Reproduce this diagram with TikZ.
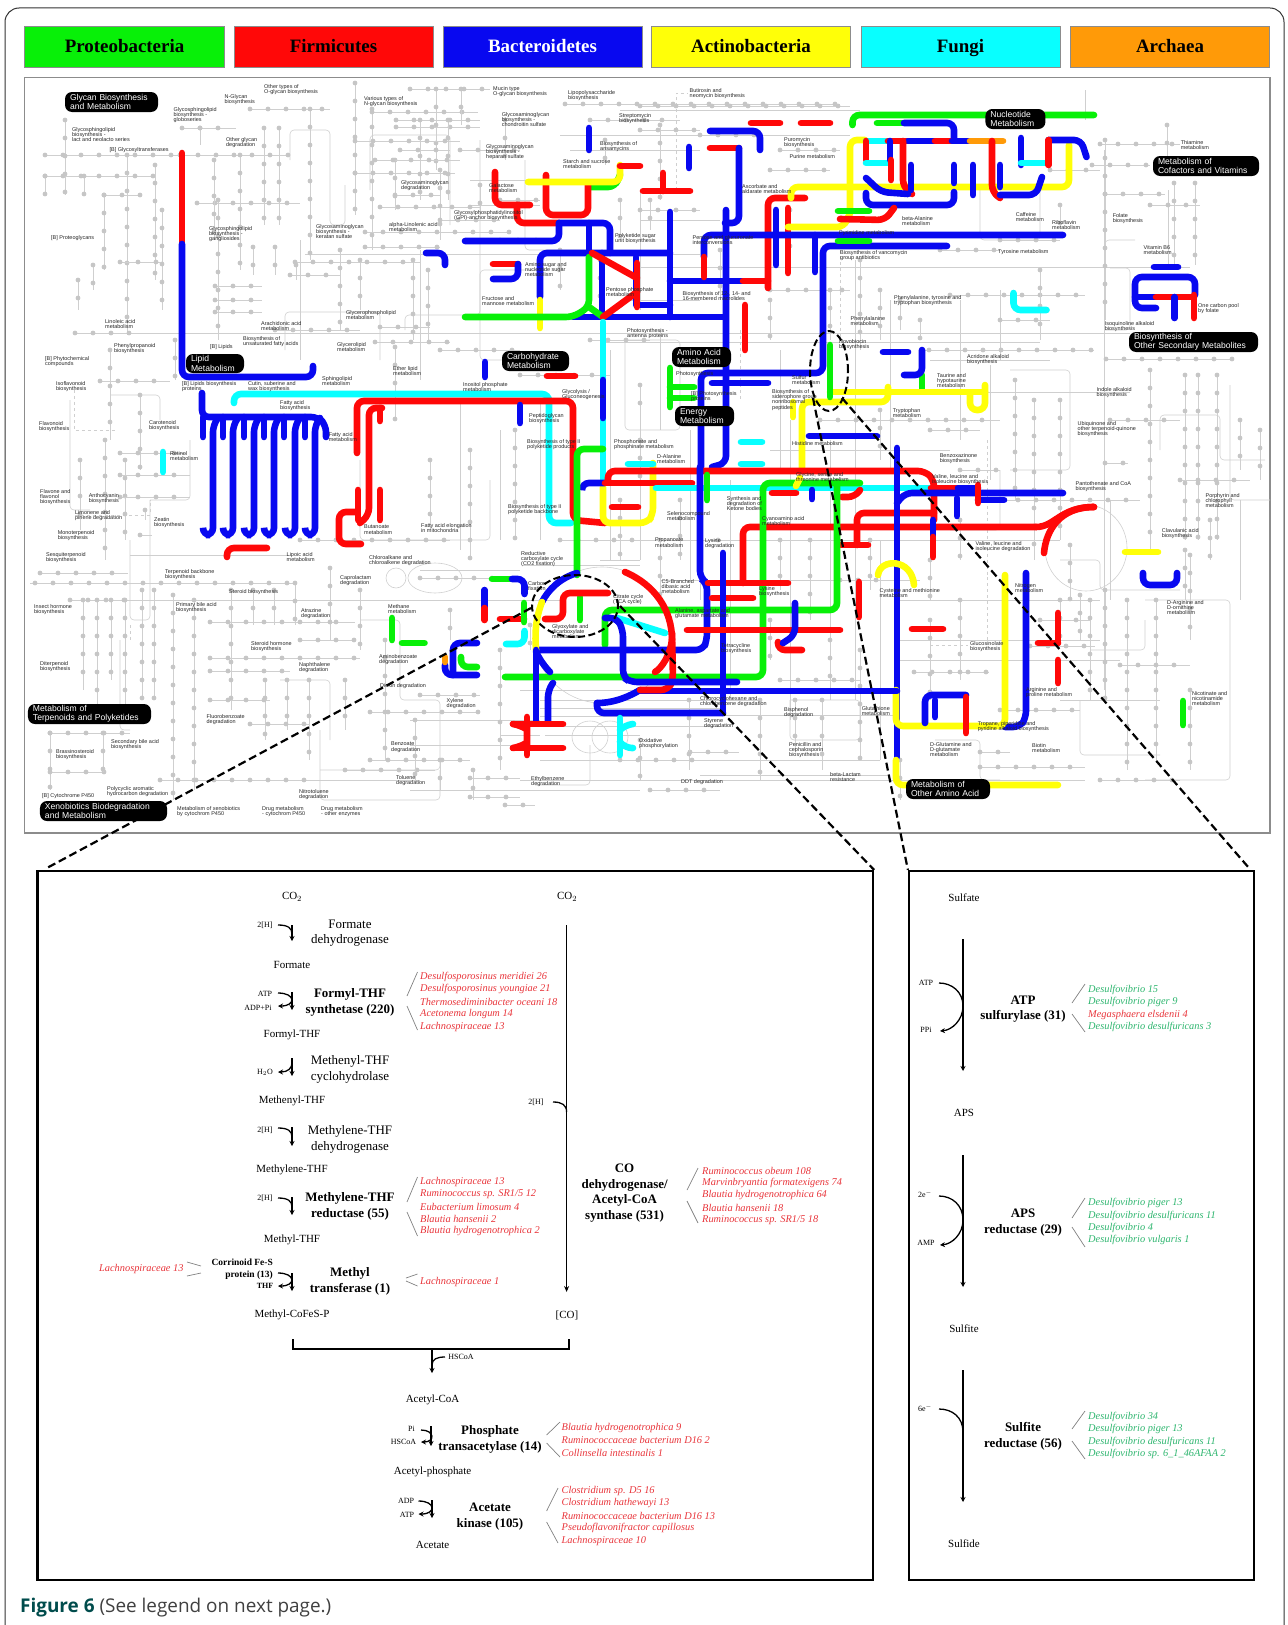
\documentclass[tikz,border=0pt]{standalone}
\usepackage{fontspec}
\setmainfont{Liberation Serif}
\newfontfamily\mapf{Liberation Sans}
\newfontfamily\capf{Open Sans}
\usetikzlibrary{arrows.meta,shapes.geometric}
\definecolor{bB}{HTML}{0808F0}
\definecolor{bR}{HTML}{FF0808}
\definecolor{bG}{HTML}{08F008}
\definecolor{bY}{HTML}{FFFF08}
\definecolor{bC}{HTML}{08FFFF}
\definecolor{bO}{HTML}{FF9A08}
\definecolor{tR}{HTML}{E8343A}
\definecolor{tG}{HTML}{2DB56E}
\definecolor{gnet}{HTML}{C6C6C6}
\definecolor{glin}{HTML}{CFCFCF}
\tikzset{
  thk/.style={line width=6.6bp,line cap=round,rounded corners=7bp},
  pB/.style={thk,draw=bB},pR/.style={thk,draw=bR},pG/.style={thk,draw=bG},
  pY/.style={thk,draw=bY},pC/.style={thk,draw=bC},pO/.style={thk,draw=bO},
  gthin/.style={draw=glin,line width=0.6bp,rounded corners=4bp},
  gdot/.style={draw=gnet,line width=4.8bp,line cap=round,dash pattern=on 0bp off 18bp},
  gdash/.style={draw=glin,line width=0.6bp,dashed},
  maplab/.style={anchor=north west,inner sep=0pt,align=left,text=black!85,font=\mapf\fontsize{5.5}{5.3}\selectfont},
  badge/.style={rounded corners=7bp,fill=black,text=white,inner sep=0pt,align=left,font=\mapf\fontsize{8.6}{9.2}\selectfont},
  legbox/.style={draw=black!45,line width=0.8bp,minimum height=41bp,minimum width=199bp,inner sep=0pt,text height=13bp,text depth=0.5bp,font=\bfseries\fontsize{19}{20}\selectfont},
  zoomln/.style={draw=black,line width=2.2bp,dash pattern=on 8bp off 4bp},
  panel/.style={draw=black,line width=2.2bp},
  met/.style={inner sep=0pt,font=\fontsize{11}{12}\selectfont},
  cof/.style={inner sep=0pt,font=\fontsize{8}{9}\selectfont},
  enz/.style={inner sep=0pt,align=center,font=\fontsize{13}{15.7}\selectfont},
  enzb/.style={inner sep=0pt,align=center,font=\bfseries\fontsize{13}{15.7}\selectfont},
  spR/.style={anchor=west,inner sep=0pt,text=tR,font=\itshape\fontsize{10.4}{12}\selectfont},
  spG/.style={anchor=west,inner sep=0pt,text=tG,font=\itshape\fontsize{10.4}{12}\selectfont},
  brk/.style={draw=black!50,line width=0.7bp},
  rx/.style={draw=black,line width=1.3bp,-{Stealth[length=5bp,width=5bp]}},
  rc/.style={draw=black,line width=1.3bp},
}
\newcounter{lb}
\newcommand{\ML}[3]{\stepcounter{lb}\node[maplab] (m\thelb) at (#1,#2) {#3};}
\newcommand{\BD}[6]{\node[badge,minimum width=#4bp,minimum height=#5bp,text width=#4bp-10bp,align=left] (#6) at (#1+#4/2,#2+#5/2) {#3};}
\newcommand{\SP}[4]{\stepcounter{lb}\node[#1] (s\thelb) at (#2,#3) {#4};}
\newcommand{\BK}[4]{\stepcounter{lb}\coordinate (ba\thelb) at (#1,#2);\coordinate (bb\thelb) at (#3,#4);\draw[brk] (ba\thelb)--(bb\thelb);}
\newcommand{\MAIN}[4]{\coordinate (#1a) at (#2,#3);\coordinate (#1b) at (#2,#4);\draw[rx] (#1a)--(#1b);}
\begin{document}
\begin{tikzpicture}[x=1bp,y=-1bp]
\useasboundingbox (0,0) rectangle (1287,1625);
\draw[draw=black!80,line width=1bp] (5,1625)--(5,22) arc[start angle=180,end angle=90,radius=14bp]--(1270,8) arc[start angle=90,end angle=0,radius=14bp]--(1284,1625);
% legend
\node[legbox,fill=bG,minimum width=199.5bp] (lg1) at (124.5,46.5) {Proteobacteria};
\node[legbox,fill=bR] (lg2) at (333.5,46.5) {Firmicutes};
\node[legbox,fill=bB,text=white] (lg3) at (542.5,46.5) {Bacteroidetes};
\node[legbox,fill=bY] (lg4) at (751,46.5) {Actinobacteria};
\node[legbox,fill=bC] (lg5) at (960.5,46.5) {Fungi};
\node[legbox,fill=bO] (lg6) at (1170,46.5) {Archaea};
\draw[draw=black!45,line width=1.2bp] (24.5,77.3) rectangle (1270,833);
% grey network: thin lines
\foreach \a/\b/\c/\d in {75/333/1130/333,305/254/700/254,640/267/1190/267,600/342/1040/342,985/392/1130/392,30/583/130/583,130/600/200/600,
 200/600/560/600,210/622/355/622,210/658/360/658,520/690/760/690,130/555/290/555,420/570/520/570,640/715/900/715,640/700/760/700,
 500/735/540/735,545/735/640/735,540/760/740/760,410/790/640/790,160/780/420/780,640/540/1060/540,660/580/920/580,900/660/1000/660,1000/660/1120/660,
 640/300/700/300,640/220/720/220,470/180/560/180,470/205/540/205,620/110/860/110,560/135/850/135,570/150/700/150,
 640/190/640/310,610/350/610/560,700/760/880/760,700/775/890/775,1060/700/1160/700,1104/150/1104/690,
 1168/190/1168/270,930/360/1050/360,600/560/640/560,640/410/640/560,660/330/660/430,690/430/690/580,
 780/350/780/470,790/420/790/720,890/300/890/470,960/300/960/440,990/365/990/480,730/480/730/700,830/440/830/700,
 855/260/855/700,880/540/880/760,1000/290/1000/360,1085/90/1085/120,860/320/860/350,770/450/950/450,300/240/300/360,
 420/250/420/380,460/400/460/550,500/430/500/540,540/400/540/540,
 540/700/640/700,540/708/640/708,540/716/640/716,540/726/640/726,640/708/720/708,640/726/720/726,410/720/540/720,410/745/520/745,520/780/1085/780,
 900/640/1100/640,900/600/1100/600,1110/500/1110/600,1240/500/1240/600}
 {\draw[gthin] (\a,\b)--(\c,\d);}
% grey network: rounded paths
\draw[gthin] (290,160)--(290,130)--(330,130)--(330,225)--(345,225)--(345,185);
\draw[gthin] (370,190)--(370,135)--(450,135)--(450,225);
\draw[gthin] (285,350)--(285,312)--(380,312)--(380,360);
\draw[gthin] (405,330)--(405,315)--(480,315)--(480,270)--(545,270);
\draw[gthin] (480,140)--(480,360)--(540,360);
\draw[gthin] (525,160)--(525,250)--(590,250);
\draw[gthin] (625,340)--(625,430)--(680,430)--(680,340)--(625,340);
\draw[gthin] (980,190)--(980,240)--(1040,240)--(1040,190);
\draw[gthin] (1105,270)--(1105,240)--(1135,240);
\draw[gthin] (1110,268)--(1130,268)--(1130,330)--(1105,330);
\draw[gthin] (1010,370)--(1070,370)--(1070,470)--(1010,470);
\draw[gthin] (1230,385)--(1230,500)--(1270,500);
\draw[gthin] (1145,600)--(1230,600)--(1230,780)--(1145,780);
\draw[gthin] (1060,560)--(1100,560)--(1100,590)--(1180,590);
\draw[gthin] (1090,650)--(1145,650)--(1145,620);
\draw[gthin] (935,740)--(980,740)--(980,780)--(1000,780);
\draw[gthin] (790,700)--(860,700)--(860,740)--(790,740)--(790,700);
\draw[gthin] (360,620)--(400,620)--(400,700)--(440,700)--(440,770)--(320,770);
\draw[gthin] (320,730)--(320,800)--(440,800)--(440,770);
\draw[gthin] (280,680)--(330,680)--(330,740);
\draw[gthin] (120,640)--(120,730)--(130,730);
\draw[gthin] (130,540)--(130,620)--(150,620)--(150,500);
\draw[gthin] (70,400)--(70,510)--(90,510);
\draw[gthin] (110,395)--(160,395)--(160,420);
\draw[gthin] (190,440)--(190,500)--(150,500);
\draw[gthin] (360,460)--(360,540)--(490,540)--(490,480);
\draw[gthin] (700,540)--(700,600);
\draw[gthin] (522,565)--(640,565);
\draw[gthin] (535,785)--(590,785)--(590,745);
\draw[gthin] (1160,450)--(1160,415)--(1220,415)--(1220,460)--(1265,460);
\draw[gthin] (950,530)--(1000,530)--(1000,470);
\draw[gthin] (1080,700)--(1080,755)--(1160,755);
\draw[draw=glin,line width=0.6bp] (602,635) circle[radius=68bp];
\draw[draw=glin,line width=0.6bp] (1086,548) ellipse[x radius=41bp,y radius=43bp];
\draw[draw=glin,line width=0.6bp] (590,737) ellipse[x radius=18bp,y radius=16bp];
\draw[draw=glin,line width=0.6bp] (610,737) ellipse[x radius=18bp,y radius=16bp];
\draw[draw=glin,line width=0.6bp] (435,578) ellipse[x radius=27bp,y radius=15bp];
\draw[draw=glin,line width=0.6bp] (396,578) circle[radius=10bp];
\draw[gdash] (676,190)--(676,93)--(687,93);
\draw[gdash] (630,300)--(650,300);\draw[gdash] (740,330)--(740,400);
\draw[gdash] (925,350)--(965,350);\draw[gdash] (840,250)--(840,340);
\draw[gdash] (930,645)--(968,645);\draw[gdash] (987,440)--(987,640);
\draw[gdash] (75,515)--(150,515)--(150,500);\draw[gdash] (130,625)--(130,640);
\draw[gdash] (74,390)--(74,430)--(115,430);
% grey network: dotted segments, each on its thin line
\foreach \a/\b/\c/\d in {
 45/155/180/155,180/155/290/155,45/176/155/176,65/120/65/195,45/176/45/195,84/176/84/195,104/195/142/195,127/155/127/335,104/195/104/270,
 182/128/236/128,200/128/200/145,240/155/240/270,264/128/264/225,279/128/279/225,197/203/300/203,214/160/214/240,250/109/330/109,310/109/310/260,
 355/83/355/215,372/109/372/250,372/112/478/112,410/89/490/89,436/89/436/170,461/89/461/125,355/141/460/141,355/173/455/173,380/207/480/207,365/232/510/232,
 365/247/440/247,295/262/420/262,253/247/253/275,275/247/275/275,290/275/340/275,340/250/340/330,296/265/296/280,360/260/360/310,413/260/413/340,
 428/270/428/340,275/330/360/330,380/327/430/327,215/300/262/300,215/286/262/286,215/312/262/312,218/200/218/340,162/210/162/310,155/165/155/280,
 78/280/78/310,93/265/93/290,120/262/160/262,75/333/140/333,375/342/450/342,395/347/395/420,440/350/520/350,520/375/610/375,100/381/170/381,
 110/350/110/440,140/395/140/470,175/340/175/380,440/170/440/240,400/150/450/150,440/220/500/220,480/185/480/215,395/160/395/210,505/120/505/160,
 565/104/840/104,590/120/680/120,605/140/605/165,560/250/560/290,396/120/480/120,396/127/480/127,420/120/420/200,448/120/448/200,375/160/460/160,395/195/440/195,
 460/150/520/150,500/200/540/200,500/240/560/240,640/130/700/130,640/210/700/210,
 105/440/105/560,80/460/80/530,125/460/125/540,120/453/185/453,120/475/190/475,120/497/190/497,145/510/145/520,140/535/152/535,
 40/573/128/573,35/583/295/583,70/600/130/600,83/600/83/690,97/600/97/720,111/600/111/680,125/600/125/710,142/590/142/700,154/590/154/700,
 173/595/173/800,194/600/194/790,50/733/130/733,50/733/50/790,50/772/105/772,103/733/103/772,160/780/305/780,210/622/350/622,210/658/360/658,
 210/671/290/671,231/590/231/710,253/590/253/625,274/590/274/625,295/583/295/625,265/680/265/740,287/680/287/730,309/680/309/760,345/680/345/730,
 210/700/270/700,370/712/480/712,250/724/310/724,420/695/480/695,370/760/470/760,345/770/435/770,473/770/473/800,470/778/520/778,470/797/520/797,505/805/535/805,
 420/578/510/578,330/568/330/640,360/590/360/650,300/640/355/640,450/610/450/640,300/540/450/540,530/625/530/650,500/650/500/770,
 430/460/430/530,470/450/470/560,515/430/515/540,560/540/640/540,415/720/415/780,440/760/440/790,385/640/385/760,
 640/106/850/106,700/135/760/135,780/150/840/150,770/170/830/170,790/210/790/260,770/290/850/290,830/290/830/340,720/250/720/300,650/200/650/230,
 660/125/660/200,620/200/620/240,600/260/600/310,590/340/650/340,640/385/640/420,
 1092/165/1150/165,1105/194/1165/194,1150/205/1200/205,1100/144/1180/144,1167/125/1167/160,1174/183/1174/270,1195/183/1195/265,1105/140/1105/320,
 929/350/1094/350,1106/359/1234/359,1150/370/1150/550,1185/375/1185/540,1217/375/1217/540,1198/375/1198/540,1105/463/1128/463,1060/400/1060/540,
 1015/380/1015/500,1034/400/1034/560,1000/500/1140/500,1127/600/1127/770,1156/600/1156/760,1030/646/1095/646,914/672/989/672,980/767/1085/767,
 980/752/1010/752,1000/710/1080/710,1185/550/1185/600,880/290/880/340,900/300/900/330,950/295/1085/295,1000/320/1050/320,920/320/920/340,
 1040/270/1040/340,1060/205/1060/225,1000/240/1060/240,860/260/860/340,770/300/770/340,
 820/420/1000/420,880/410/880/460,930/430/980/430,960/470/1000/470,1070/545/1070/600,1190/555/1190/640,1210/520/1210/560,1180/480/1250/480,
 690/752/739/752,689/700/689/770,760/700/760/780,822/700/822/770,780/680/860/680,795/700/795/750,860/650/860/760,900/760/900/800,
 930/620/930/700,960/600/960/680,1060/600/1060/640,1090/600/1090/700,1105/590/1105/700,870/540/870/590,930/560/930/600,960/520/960/560,
 660/540/660/600,680/500/680/560,700/540/730/540,620/500/620/560,640/610/690/610,640/440/640/480,780/540/780/590,810/540/810/620,840/580/880/580,
 620/760/700/760,640/740/640/780,650/790/720/790,770/620/770/660,830/640/830/680,1190/690/1190/770,1100/780/1180/780,1080/595/1080/640,
 1120/665/1190/665,1040/620/1090/620,1240/420/1240/470,1260/430/1260/480,1110/420/1180/420,1050/170/1100/170,940/250/1000/250}
 {\draw[gthin] (\a,\b)--(\c,\d);\draw[gdot] (\a,\b)--(\c,\d);}
% ===== thick coloured paths =====
\draw[pR] (182,153)--(182,244);
\draw[pB] (182,244)--(182,377)--(313,377)--(313,366);
\draw[pC] (234,403)--(234,394)--(549,394)--(549,523)--(571,523);
\draw[pB] (202,393)--(202,417)--(318,417)--(326,425)--(326,437);
\foreach \x in {203,223,244,264,284,305}{\draw[pB] (\x,417)--(\x,437);}
\foreach \x in {213,233,254,274,295,315}{
 \pgfmathsetmacro{\xl}{\x-10}\pgfmathsetmacro{\xr}{\x+5}
 \draw[pB] (\xl,528)--(\xl,535)--(\x,535)--(\x,425)--(\xr,418);}
\draw[pC] (163,452)--(163,472);
\draw[pR] (227,557)--(227,548)--(267,548);
\draw[pR] (357,453)--(357,401)--(573,401)--(573,520)--(605,523);
\draw[pR] (382,408)--(369,408)--(369,515)--(360,523);
\draw[pR] (380,408)--(380,421);
\draw[pR] (358,490)--(358,520);\draw[pR] (380,490)--(380,520);
\draw[pR] (361,544)--(339,544)--(339,512)--(357,512);
\draw[pB] (520,405)--(520,423);
\draw[pB] (485,362)--(485,377);\draw[pR] (547,376)--(575,376);
\draw[pB] (589,128)--(589,150);\draw[pB] (689,147)--(689,168);
\draw[pR] (495,172)--(495,205)--(530,205);
\draw[pR] (517,205)--(517,223)--(559,223);
\draw[pG] (590,187)--(615,187)--(620,175);
\draw[pR] (546,175)--(546,215)--(588,215)--(588,185);
\draw[pY] (528,182)--(620,182)--(620,165);
\draw[pR] (620,166)--(640,166);
\draw[pR] (643,191)--(690,191);\draw[pR] (663,173)--(663,191);
\draw[pB] (559,223)--(610,223)--(610,253);\draw[pB] (589,223)--(589,253);
\draw[pB] (559,223)--(559,241)--(465,241);
\draw[pB] (426,253)--(445,253)--(445,265);
\draw[pR] (493,264)--(518,264);
\draw[pB] (518,264)--(518,279)--(493,279);
\draw[pB] (540,297)--(540,253)--(670,253);
\draw[pY] (540,300)--(540,328);
\draw[pB] (670,212)--(670,317);
\draw[pB] (637,305)--(670,305);
\draw[pB] (602,253)--(602,317);\draw[pB] (636,257)--(636,305);
\draw[pB] (573,317)--(725,317);
\draw[pG] (465,317)--(573,317)--(589,307)--(589,257);
\draw[pG] (589,307)--(603,317);
\draw[pR] (592,253)--(637,278);
\draw[pR] (603,317)--(637,292);
\draw[pR] (637,263)--(637,307);
\draw[pC] (603,322)--(603,483);
\draw[pB] (603,380)--(603,418);
\draw[pB] (670,281)--(743,281);
\draw[pR] (743,281)--(768,281);
\draw[pR] (805,198)--(768,198)--(768,288);
\draw[pB] (776,210)--(776,265);
\draw[pR] (788,208)--(788,273);
\draw[pB] (704,257)--(704,235)--(1063,235);
\draw[pR] (704,257)--(704,277);
\draw[pB] (815,235)--(815,272);
\draw[pB] (726,210)--(726,463)--(712,467);
\draw[pR] (710,148)--(739,148);
\draw[pB] (739,148)--(739,223)--(725,223);
\draw[pB] (710,131)--(760,131)--(760,150);
\draw[pR] (751,123)--(780,123);\draw[pR] (801,123)--(830,123);
\draw[pR] (745,305)--(745,350);
\draw[pB] (701,467)--(701,373)--(823,373)--(823,246)--(947,246);
\draw[pB] (712,383)--(768,383);
\draw[pG] (670,368)--(670,407);\draw[pG] (670,387)--(694,387);\draw[pG] (670,398)--(694,398);
\draw[pG] (852.5,125)--(852.5,115)--(1094,115);
\draw[pG] (877,123)--(904,123);
\draw[pB] (904,123)--(954,123)--(954,140);
\draw[pY] (850,213)--(850,140)--(865,140);
\draw[pY] (791,198)--(791,187)--(1069,187)--(1069,145);
\draw[pY] (788,227)--(844,227)--(850,213);
\draw[pC] (866,141)--(888,141);
\draw[pR] (888,141)--(908,141);\draw[pB] (908,141)--(935,141);\draw[pR] (935,141)--(952,141);
\draw[pB] (952,141)--(970,141);\draw[pO] (970,141)--(1003,141);
\draw[pR] (866,141)--(866,160);\draw[pC] (866,163)--(888,163);
\draw[pB] (890,141)--(890,160);\draw[pR] (891,160)--(891,180);
\draw[pR] (903,141)--(903,187)--(912,194);
\draw[pB] (911,165)--(911,190);
\draw[pB] (866,178)--(881,192)--(908,194);
\draw[pB] (866,193)--(866,205)--(954,205)--(954,192);
\draw[pB] (954,165)--(954,183);\draw[pB] (973,165)--(973,195);
\draw[pR] (992,141)--(992,192)--(1000,198);
\draw[pB] (1000,165)--(1000,187);
\draw[pB] (1000,195)--(1036,195)--(1042,177);
\draw[pB] (1021,138)--(1021,165);\draw[pC] (1021,163)--(1046,163);
\draw[pB] (1048.6,140)--(1081,140)--(1086.5,157);
\draw[pR] (1048.6,140)--(1048.6,165);
\draw[pG] (838,211)--(869,211);
\draw[pR] (840,219)--(885,220)--(894,208);
\draw[pG] (838,241)--(869,241);
\draw[pB] (1154,267)--(1178,267);
\draw[pB] (1156,308)--(1135,308)--(1135,277)--(1195,277)--(1195,295);
\draw[pR] (1194,295)--(1194,318);
\draw[pB] (1135,297)--(1156,297);\draw[pR] (1156,297)--(1194,297);
\draw[pB] (1174.5,297)--(1174.5,318);
\draw[pC] (1013.5,293)--(1013.5,310)--(1046.5,310);
\draw[pB] (883,352)--(908,352);
\draw[pG] (922,375)--(922,390);
\draw[pB] (922,350)--(922,375)--(904,375);
\draw[pY] (802,468)--(802,402)--(888,402)--(888,387);
\draw[pY] (793,402)--(793,417);
\draw[pY] (830,392)--(985,392);
\draw[pY] (985,385)--(985,410)--(970,410)--(970,393);
\draw[pG] (830,345)--(830,397);
\draw[pB] (809,436)--(877,436);
\draw[pC] (741,442)--(762,442);\draw[pC] (741,464)--(762,464);
\draw[pY] (603,487)--(603,523)--(647,523)--(653,515)--(653,463);
\draw[pC] (628,464)--(653,464);
\draw[pR] (612,507)--(638,507);
\draw[pB] (582,490)--(582,483)--(605,483);
\draw[pR] (605,483)--(692,483);
\draw[pR] (608,482)--(608,471)--(925,471)--(934,480)--(934,520);
\draw[pC] (656,488)--(929,488);
\draw[pG] (603,449)--(577,449)--(577,575);
\draw[pR] (743,583)--(743,527)--(1036,527);
\draw[pR] (1036,527) .. controls (1055,527) and (1060,507) .. (1094,507);
\draw[pR] (1044,553) .. controls (1046,530) and (1060,507) .. (1094,507);
\draw[pR] (857,545)--(857,513)--(934,513);
\draw[pR] (841,545)--(868,545);
\draw[pB] (933,520)--(933,537);\draw[pR] (933,537)--(933,557);
\draw[pR] (931,488)--(958,488);\draw[pB] (958,488)--(978,488);
\draw[pB] (897,503)--(905,493)--(1063,493);
\draw[pB] (978,500)--(1004,500);
\draw[pR] (978,485)--(978,503);
\draw[pB] (957,498)--(957,516);
\draw[pR] (772,493)--(796,493);
\draw[pB] (812,490)--(812,499);
\draw[pB] (790,483)--(835,483);
\draw[pR] (842,497)--(855,497)--(860,490);
\draw[pG] (505,677)--(763,677)--(763,483)--(860,483);
\draw[pG] (605,645)--(605,610)--(837,610)--(837,482);
\draw[pG] (707,475)--(707,500);
\draw[pY] (800,478)--(796,486);
\draw[pG] (580,597)--(580,620);
\draw[pB] (897,448)--(897,757);
\draw[pR] (859,582)--(859,617);
\draw[pR] (912,629)--(943,629);
\draw[pB] (1026,573)--(1026,718)--(1020,727)--(1005,727);
\draw[pY] (896,690)--(896,726)--(1005,726)--(1005,575);
\draw[pB] (925,723)--(925,695)--(966,695);
\draw[pB] (935,700)--(935,717);
\draw[pR] (966,697)--(966,733);
\draw[pY] (896,760)--(896,785)--(1058,785);
\draw[pY] (878,575) .. controls (880,558) and (912,558) .. (914,585);
\draw[pY] (1125,552)--(1158,552);
\draw[pB] (1143,573)--(1143,585)--(1177,585)--(1177,573);
\draw[pR] (1058,613)--(1058,643);\draw[pR] (1038,643)--(1058,643);
\draw[pR] (1058,660)--(1058,683);
\draw[pG] (1183,701)--(1183,725);
\draw[pB] (537,650)--(703,650)--(707,640)--(707,583)--(700,578)--(700,467);
\draw[pR] (708,583)--(788,583);
\draw[pR] (712,598)--(753,598);
\draw[pB] (723,553)--(723,713);
\draw[pB] (597,703)--(597,713)--(723,713);
\draw[pB] (597,703) .. controls (615,703) and (630,696) .. (640,690);
\draw[pB] (640,691)--(897,691);
\draw[pR] (625,572) .. controls (655,585) and (672,610) .. (672,640);
\draw[pR] (672,633)--(673,680)--(668,690)--(640,690);
\draw[pR] (672,640) .. controls (670,655) and (662,668) .. (655,672);
\draw[pC] (617,618)--(665,633);
\draw[pB] (605,618)--(617,618)--(623,630)--(623,677)--(630,682)--(737,682);
\draw[pR] (687,630)--(840,630);
\draw[pR] (778,642)--(778,650)--(802,650);
\draw[pB] (795,603)--(795,635)--(783,643);
\draw[pB] (577,573) .. controls (560,578) and (548,590) .. (542,602);
\draw[pY] (542,602) .. controls (535,620) and (535,635) .. (536,650);
\draw[pB] (536,650)--(536,722);
\draw[pB] (536,652) .. controls (540,660) and (545,667) .. (550,672);
\draw[pB] (553,683)--(548,690)--(548,722);
\draw[pR] (608,593)--(563,593)--(563,619)--(545,619);
\draw[pR] (513,724)--(563,724);\draw[pR] (513,748)--(563,748);
\draw[pR] (527,717)--(527,755);
\draw[pR] (513,724) .. controls (523,726) and (527,730) .. (527,736) .. controls (527,742) and (523,746) .. (513,748);
\draw[pC] (620,718)--(620,755);
\draw[pC] (620,730)--(625,725)--(633,724);\draw[pC] (620,742)--(625,748)--(633,748);
\draw[pG] (492,579)--(512,579);
\draw[pB] (512,579)--(524.5,579)--(524.5,594);
\draw[pB] (484.5,590)--(484.5,608);\draw[pR] (484.5,608)--(484.5,620);
\draw[pR] (500,619)--(524,619);\draw[pG] (524,603)--(524,622);
\draw[pC] (506,644)--(524.5,644)--(524.5,631);
\draw[pG] (392,618)--(392,640);\draw[pG] (402,643)--(424.5,643);
\draw[pB] (477,643)--(453,643)--(453,675);
\draw[pB] (445,665)--(445,675)--(477,675);
\draw[pO] (445,657)--(445,662);
\draw[pG] (461,657)--(461,667)--(477,667);
% ===== map labels =====
\ML{224.5}{94}{N-Glycan\\biosynthesis}
\ML{264}{84}{Other types of\\O-glycan biosynthesis}
\ML{364}{96}{Various types of\\N-glycan biosynthesis}
\ML{493}{86}{Mucin type\\O-glycan biosynthesis}
\ML{568}{90}{Lipopolysaccharide\\biosynthesis}
\ML{173.5}{107}{Glycosphingolipid\\biosynthesis -\\globoseries}
\ML{72}{127}{Glycosphingolipid\\biosynthesis -\\lact and neolacto series}
\ML{109.4}{147}{[B] Glycosyltransferases}
\ML{226}{137}{Other glycan\\degradation}
\ML{501.6}{112}{Glycosaminoglycan\\biosynthesis -\\chondroitin sulfate}
\ML{486}{144}{Glycosaminoglycan\\biosynthesis -\\heparan sulfate}
\ML{600}{141}{Biosynthesis of\\ansamycins}
\ML{563}{159}{Starch and sucrose\\metabolism}
\ML{489}{183}{Galactose\\metabolism}
\ML{401}{180}{Glycosaminoglycan\\degradation}
\ML{454}{210}{Glycosylphosphatidylinositol\\(GPI)-anchor biosynthesis}
\ML{619}{113}{Streptomycin\\biosynthesis}
\ML{51}{235}{[B] Proteoglycans}
\ML{209}{226}{Glycosphingolipid\\biosynthesis -\\gangliosides}
\ML{316}{224}{Glycosaminoglycan\\biosynthesis -\\keratan sulfate}
\ML{389}{222}{alpha-Linolenic acid\\metabolism}
\ML{525}{262}{Amino sugar and\\nucleotide sugar\\metabolism}
\ML{615}{233}{Polyketide sugar\\unit biosynthesis}
\ML{606}{287}{Pentose phosphate\\metabolism}
\ML{482}{296}{Fructose and\\mannose metabolism}
\ML{346}{310}{Glycerophospholipid\\metabolism}
\ML{105}{319}{Linoleic acid\\metabolism}
\ML{261}{321}{Arachidonic acid\\metabolism}
\ML{243}{336}{Biosynthesis of\\unsaturated fatty acids}
\ML{210}{344}{[B] Lipids}
\ML{337}{342}{Glycerolipid\\metabolism}
\ML{114}{343}{Phenylpropanoid\\biosynthesis}
\ML{45}{356}{[B] Phytochemical\\compounds}
\ML{56}{381}{Isoflavonoid\\biosynthesis}
\ML{182}{381}{[B] Lipids biosynthesis\\proteins}
\ML{248}{381}{Cutin, suberine and\\wax biosynthesis}
\ML{322}{376}{Sphingolipid\\metabolism}
\ML{393}{366}{Ether lipid\\metabolism}
\ML{463}{382}{Inositol phosphate\\metabolism}
\ML{562}{389}{Glycolysis /\\Gluconeogenesis}
\ML{280}{400}{Fatty acid\\biosynthesis}
\ML{328.6}{432}{Fatty acid\\metabolism}
\ML{529}{413}{Peptidoglycan\\biosynthesis}
\ML{39}{421}{Flavonoid\\biosynthesis}
\ML{149}{420}{Carotenoid\\biosynthesis}
\ML{527}{439}{Biosynthesis of type II\\polyketide products}
\ML{614}{439}{Phosphonate and\\phosphinate metabolism}
\ML{170}{451}{Retinol\\metabolism}
\ML{40}{489}{Flavone and\\flavonol\\biosynthesis}
\ML{88.6}{493}{Anthocyanin\\biosynthesis}
\ML{75}{510}{Limonene and\\pinene degradation}
\ML{154}{517}{Zeatin\\biosynthesis}
\ML{57.6}{530}{Monoterpenoid\\biosynthesis}
\ML{46}{552}{Sesquiterpenoid\\biosynthesis}
\ML{364}{525}{Butanoate\\metabolism}
\ML{421}{523}{Fatty acid elongation\\in mitochondria}
\ML{508}{504}{Biosynthesis of type II\\polyketide backbone}
\ML{286.5}{552}{Lipoic acid\\metabolism}
\ML{369}{555}{Chloroalkane and\\chloroalkene degradation}
\ML{521}{551}{Reductive\\carboxylate cycle\\(CO2 fixation)}
\ML{165}{569}{Terpenoid backbone\\biosynthesis}
\ML{340}{575}{Caprolactam\\degradation}
\ML{528}{581}{Carbon\\fixation}
\ML{229}{589}{Steroid biosynthesis}
\ML{388}{604}{Methane\\metabolism}
\ML{301}{608}{Atrazine\\degradation}
\ML{176}{602}{Primary bile acid\\biosynthesis}
\ML{34}{604}{Insect hormone\\biosynthesis}
\ML{613}{594}{Citrate cycle\\(TCA cycle)}
\ML{552}{624}{Glyoxylate and\\dicarboxylate\\metabolism}
\ML{251}{641}{Steroid hormone\\biosynthesis}
\ML{379}{654}{Aminobenzoate\\degradation}
\ML{299}{662}{Naphthalene\\degradation}
\ML{40}{661}{Diterpenoid\\biosynthesis}
\ML{380}{683}{Dioxin degradation}
\ML{446.5}{698}{Xylene\\degradation}
\ML{206.5}{714}{Fluorobenzoate\\degradation}
\ML{111}{739}{Secondary bile acid\\biosynthesis}
\ML{56}{749}{Brassinosteroid\\biosynthesis}
\ML{391}{742}{Benzoate\\degradation}
\ML{396}{775}{Toluene\\degradation}
\ML{531}{776}{Ethylbenzene\\degradation}
\ML{107}{786}{Polycyclic aromatic\\hydrocarbon degradation}
\ML{42}{793}{[B] Cytochrome P450}
\ML{299}{789}{Nitrotoluene\\degradation}
\ML{177}{806}{Metabolism of xenobiotics\\by cytochrom P450}
\ML{262}{806}{Drug metabolism\\- cytochrom P450}
\ML{321}{806}{Drug metabolism\\- other enzymes}
\ML{689.5}{88}{Butirosin and\\neomycin biosynthesis}
\ML{784}{137}{Puromycin\\biosynthesis}
\ML{789.4}{154}{Purine metabolism}
\ML{1180.6}{140}{Thiamine\\metabolism}
\ML{742}{184}{Ascorbate and\\aldarate metabolism}
\ML{902}{216}{beta-Alanine\\metabolism}
\ML{1015.6}{212}{Caffeine\\metabolism}
\ML{1052}{220}{Riboflavin\\metabolism}
\ML{1112.6}{213}{Folate\\biosynthesis}
\ML{839}{230}{Pyrimidine metabolism}
\ML{692.4}{235}{Pentose and glucuronate\\interconversions}
\ML{840}{250}{Biosynthesis of vancomycin\\group antibiotics}
\ML{998}{249}{Tyrosine metabolism}
\ML{1143.5}{245}{Vitamin B6\\metabolism}
\ML{682.5}{291}{Biosynthesis of 12-, 14- and\\16-membered macrolides}
\ML{894}{295}{Phenylalanine, tyrosine and\\tryptophan biosynthesis}
\ML{1198}{303}{One carbon pool\\by folate}
\ML{850.5}{316}{Phenylalanine\\metabolism}
\ML{1104.7}{321}{Isoquinoline alkaloid\\biosynthesis}
\ML{627}{328}{Photosynthesis -\\antenna proteins}
\ML{839}{339}{Novobiocin\\biosynthesis}
\ML{967}{354}{Acridone alkaloid\\biosynthesis}
\ML{937}{373}{Taurine and\\hypotaurine\\metabolism}
\ML{676}{371}{Photosynthesis}
\ML{792}{375}{Sulfur\\metabolism}
\ML{691}{391}{[B] Photosynthesis\\proteins}
\ML{772}{389}{Biosynthesis of\\siderophore group\\nonribosomal\\peptides}
\ML{1096.5}{387}{Indole alkaloid\\biosynthesis}
\ML{892.6}{408}{Tryptophan\\metabolism}
\ML{1077.5}{421}{Ubiquinone and\\other terpenoid-quinone\\biosynthesis}
\ML{792}{441}{Histidine metabolism}
\ML{939.6}{453}{Benzoxazinone\\biosynthesis}
\ML{657}{454}{D-Alanine\\metabolism}
\ML{796}{472}{Glycine, serine and\\threonine metabolism}
\ML{932}{474}{Valine, leucine and\\isoleucine biosynthesis}
\ML{1075.4}{481}{Pantothenate and CoA\\biosynthesis}
\ML{1205.4}{493}{Porphyrin and\\chlorophyll\\metabolism}
\ML{726.7}{496}{Synthesis and\\degradation of\\Ketone bodies}
\ML{667}{511}{Selenocompound\\metabolism}
\ML{762}{516}{Cyanoamino acid\\metabolism}
\ML{1161.7}{528}{Clavulanic acid\\biosynthesis}
\ML{655}{538}{Propanoate\\metabolism}
\ML{705}{538}{Lysine\\degradation}
\ML{975.5}{541}{Valine, leucine and\\isoleucine degradation}
\ML{661.5}{579}{C5-Branched\\dibasic acid\\metabolism}
\ML{879.4}{588}{Cysteine and methionine\\metabolism}
\ML{759}{586}{Lysine\\biosynthesis}
\ML{1015}{583}{Nitrogen\\metabolism}
\ML{1167}{600}{D-Arginine and\\D-ornithine\\metabolism}
\ML{675}{608}{Alanine, aspartate and\\glutamate metabolism}
\ML{721}{643}{Tetracycline\\biosynthesis}
\ML{970}{641}{Glucosinolate\\biosynthesis}
\ML{1026}{687}{Arginine and\\proline metabolism}
\ML{1192}{691}{Nicotinate and\\nicotinamide\\metabolism}
\ML{700}{696}{Chlorocyclohexane and\\chlorobenzene degradation}
\ML{784}{707}{Bisphenol\\degradation}
\ML{861.6}{706}{Glutathione\\metabolism}
\ML{977.6}{721}{Tropane, piperidine and\\pyridine alkaloid biosynthesis}
\ML{704}{718}{Styrene\\degradation}
\ML{639}{738}{Oxidative\\phosphorylation}
\ML{789}{742}{Penicillin and\\cephalosporin\\biosynthesis}
\ML{930}{742}{D-Glutamine and\\D-glutamate\\metabolism}
\ML{1032}{743}{Biotin\\metabolism}
\ML{681}{779}{DDT degradation}
\ML{830}{772}{beta-Lactam\\resistance}
% badges
\BD{65}{92}{Glycan Biosynthesis\\and Metabolism}{93}{20}{b1}
\BD{186}{354}{Lipid\\Metabolism}{58}{19}{b2}
\BD{502}{351}{Carbohydrate\\Metabolism}{67}{20}{b3}
\BD{672}{347}{Amino Acid\\Metabolism}{59}{20}{b4}
\BD{675}{406}{Energy\\Metabolism}{59}{20}{b5}
\BD{985.4}{109}{Nucleotide\\Metabolism}{60}{20}{b6}
\BD{1153}{156}{Metabolism of\\Cofactors and Vitamins}{106}{20}{b7}
\BD{1129}{332}{Biosynthesis of\\Other Secondary Metabolites}{129}{20}{b8}
\BD{28}{704}{Metabolism of\\Terpenoids and Polyketides}{123}{20}{b9}
\BD{40}{801}{Xenobiotics Biodegradation\\and Metabolism}{127}{20}{b10}
\BD{906}{779}{Metabolism of\\Other Amino Acid}{84}{20}{b11}
% panels
\node[panel,minimum width=835.5bp,minimum height=709bp,inner sep=0pt] (leftpanel) at (455.25,1225.5) {};
\node[panel,minimum width=344.7bp,minimum height=709bp,inner sep=0pt] (rightpanel) at (1081.35,1225.5) {};
% zoom callouts
\node[draw=black,line width=2bp,dash pattern=on 7bp off 3.5bp,ellipse,minimum width=86bp,minimum height=62bp,inner sep=0pt] (ellA) at (575,606) {};
\node[draw=black,line width=2bp,dash pattern=on 7bp off 3.5bp,ellipse,minimum width=38bp,minimum height=80bp,inner sep=0pt] (ellB) at (829,371) {};
\coordinate (zA1) at (531,608);\coordinate (zA2) at (620,606);
\coordinate (zB1) at (813,398);\coordinate (zB2) at (842,398);
\coordinate (zL1) at (45,869);\coordinate (zL2) at (1249,868);
\draw[zoomln] (zA1)--(zL1);
\draw[zoomln] (zA2)--(leftpanel.north east);
\draw[zoomln] (zB1)--(rightpanel.north west);
\draw[zoomln] (zB2)--(zL2);
% ===== left panel texts =====
\node[met] (co2a) at (292,897) {CO$_2$};
\node[met] (co2b) at (567,897) {CO$_2$};
\node[met] (formate) at (292,965) {Formate};
\node[met] (fthf) at (292,1035) {Formyl-THF};
\node[met] (mthf1) at (292,1101) {Methenyl-THF};
\node[met] (mthf2) at (292,1170) {Methylene-THF};
\node[met] (mthf3) at (292,1240) {Methyl-THF};
\node[met] (mcfs) at (292,1315) {Methyl-CoFeS-P};
\node[met] (cobr) at (567,1315) {[CO]};
\node[met] (acoa) at (432.6,1400) {Acetyl-CoA};
\node[met] (acp) at (432.6,1472) {Acetyl-phosphate};
\node[met] (ace) at (432.6,1545) {Acetate};
\node[enz] (e1) at (350,933) {Formate\\dehydrogenase};
\node[enzb] (e2) at (350,1002.5) {Formyl-THF\\synthetase (220)};
\node[enz] (e3) at (350,1069.5) {Methenyl-THF\\cyclohydrolase};
\node[enz] (e4) at (350,1139.5) {Methylene-THF\\dehydrogenase};
\node[enzb] (e5) at (350,1206.5) {Methylene-THF\\reductase (55)};
\node[enzb] (e6) at (350,1281.5) {Methyl\\transferase (1)};
\node[inner sep=0pt,align=center,font=\bfseries\fontsize{13}{15.7}\selectfont] (e7) at (624.6,1193) {CO\\dehydrogenase/\\Acetyl-CoA\\synthase (531)};
\node[enzb] (e8) at (490,1439.5) {Phosphate\\transacetylase (14)};
\node[enzb] (e9) at (490,1516.5) {Acetate\\kinase (105)};
\node[cof] (c1) at (265,925) {2[H]};
\node[cof] (c2) at (265,994) {ATP};
\node[cof] (c3) at (258,1008) {ADP+Pi};
\node[cof] (c4) at (265,1072) {H$_2$O};
\node[cof] (c5) at (265,1130) {2[H]};
\node[cof] (c6) at (265,1198) {2[H]};
\node[cof] (c7) at (536,1102) {2[H]};
\node[cof,font=\bfseries\fontsize{8}{9}\selectfont] (c8) at (265,1286) {THF};
\node[cof] (c9) at (461,1357) {HSCoA};
\node[cof] (c10) at (411.4,1429) {Pi};
\node[cof] (c11) at (403.6,1442) {HSCoA};
\node[cof] (c12) at (406,1501) {ADP};
\node[cof] (c13) at (407,1515) {ATP};
\node[inner sep=0pt,align=right,anchor=east,font=\bfseries\fontsize{9.5}{12}\selectfont] (c14) at (273,1269) {Corrinoid Fe-S\\protein (13)};
% reaction arrows
\MAIN{r1}{292}{925}{941}
\draw[rc] (278,925) .. controls (288,925) and (292,928) .. (292,934);
\MAIN{r2}{292}{992}{1010}
\draw[rc,-{Stealth[length=5bp,width=5bp]}] (278,993) .. controls (296,993) and (296,1006) .. (278,1006);
\MAIN{r3}{292}{1058}{1076}
\draw[rc,-{Stealth[length=5bp,width=5bp]}] (292,1063) .. controls (292,1068) and (288,1072) .. (278,1072);
\MAIN{r4}{292}{1127}{1146}
\draw[rc] (278,1128) .. controls (288,1128) and (292,1131) .. (292,1137);
\MAIN{r5}{292}{1197}{1215}
\draw[rc] (278,1198) .. controls (288,1198) and (292,1201) .. (292,1207);
\MAIN{r6}{292}{1273}{1291}
\draw[rc,-{Stealth[length=5bp,width=5bp]}] (278,1273) .. controls (296,1273) and (296,1286) .. (278,1286);
\coordinate (lngA) at (566.6,925);\coordinate (lngB) at (566.6,1292);
\draw[draw=black,line width=1bp,-{Stealth[length=6bp,width=5bp]}] (lngA)--(lngB);
\draw[rc] (553,1102) .. controls (562,1102) and (566.6,1105) .. (566.6,1112);
\coordinate (brA) at (293,1339);\coordinate (brB) at (569,1339);
\draw[draw=black,line width=1.2bp] (brA)--++(0,10)-|(brB);
\MAIN{r7}{432}{1349}{1373}
\draw[rc] (445,1357) .. controls (437,1357) and (432,1359) .. (432,1365);
\MAIN{r8}{431}{1426}{1446}
\draw[rc,-{Stealth[length=5bp,width=5bp]}] (421,1430) .. controls (435,1430) and (435,1442) .. (421,1442);
\MAIN{r9}{432}{1500}{1518}
\draw[rc,-{Stealth[length=5bp,width=5bp]}] (418.5,1501) .. controls (436,1501) and (436,1514) .. (418.5,1514);
% species left
\SP{spR}{420}{977}{Desulfosporosinus meridiei 26}
\SP{spR}{420}{989}{Desulfosporosinus youngiae 21}
\SP{spR}{420}{1002}{Thermosediminibacter oceani 18}
\SP{spR}{420}{1014}{Acetonema longum 14}
\SP{spR}{420}{1027}{Lachnospiraceae 13}
\BK{417.5}{972}{407}{996}\BK{407}{1006}{417.5}{1030}
\SP{spR}{420}{1182}{Lachnospiraceae 13}
\SP{spR}{420}{1194}{Ruminococcus sp. SR1/5 12}
\SP{spR}{420}{1207}{Eubacterium limosum 4}
\SP{spR}{420}{1219}{Blautia hansenii 2}
\SP{spR}{420}{1231}{Blautia hydrogenotrophica 2}
\BK{417.5}{1177}{407}{1202}\BK{407}{1212}{417.5}{1236}
\SP{spR}{99}{1269}{Lachnospiraceae 13}
\BK{187}{1262}{201}{1266}\BK{187}{1276}{201}{1273}
\SP{spR}{420}{1282}{Lachnospiraceae 1}
\BK{417.5}{1274}{406}{1278}\BK{406}{1281}{417.5}{1286}
\SP{spR}{702}{1171}{Ruminococcus obeum 108}
\SP{spR}{702}{1183}{Marvinbryantia formatexigens 74}
\SP{spR}{702}{1195}{Blautia hydrogenotrophica 64}
\SP{spR}{702}{1208}{Blautia hansenii 18}
\SP{spR}{702}{1220}{Ruminococcus sp. SR1/5 18}
\BK{698}{1168}{687}{1190}\BK{687}{1201}{698}{1223}
\SP{spR}{561.5}{1428}{Blautia hydrogenotrophica 9}
\SP{spR}{561.5}{1440}{Ruminococcaceae bacterium D16 2}
\SP{spR}{561.5}{1453}{Collinsella intestinalis 1}
\BK{560}{1422}{546.6}{1435}\BK{546.6}{1443}{560}{1457}
\SP{spR}{561.5}{1491}{Clostridium sp. D5 16}
\SP{spR}{561.5}{1503}{Clostridium hathewayi 13}
\SP{spR}{561.5}{1516}{Ruminococcaceae bacterium D16 13}
\SP{spR}{561.5}{1528}{Pseudoflavonifractor capillosus}
\SP{spR}{561.5}{1541}{Lachnospiraceae 10}
\BK{558}{1488}{546.6}{1511}\BK{546.6}{1522}{558}{1543}
% ===== right panel texts =====
\node[met] (sulfate) at (964,898) {Sulfate};
\node[met] (aps) at (964,1113) {APS};
\node[met] (sulfite) at (964,1329) {Sulfite};
\node[met] (sulfide) at (964,1544) {Sulfide};
\node[cof] (d1) at (926,983) {ATP};
\node[cof] (d2) at (926,1030) {PPi};
\node[cof] (d3) at (925,1194) {2e$^-$};
\node[cof] (d4) at (926,1243) {AMP};
\node[cof] (d5) at (925,1408) {6e$^-$};
\node[enzb] (f1) at (1023,1009) {ATP\\sulfurylase (31)};
\node[enzb] (f2) at (1023,1222.5) {APS\\reductase (29)};
\node[enzb] (f3) at (1023,1436) {Sulfite\\reductase (56)};
\MAIN{q1}{963}{939}{1071}
\MAIN{q2}{963}{1155}{1287}
\MAIN{q3}{963}{1370}{1502}
\draw[rc,-{Stealth[length=5bp,width=5bp]}] (939,983) .. controls (952,983) and (963,992) .. (963,1006) .. controls (963,1020) and (952,1030) .. (940,1031);
\draw[rc,-{Stealth[length=5bp,width=5bp]}] (939,1196) .. controls (952,1196) and (963,1205) .. (963,1220) .. controls (963,1234) and (952,1244) .. (940,1245);
\draw[rc] (939,1409) .. controls (952,1409) and (963,1417) .. (963,1432);
\SP{spG}{1088}{990}{Desulfovibrio 15}
\SP{spG}{1088}{1002}{Desulfovibrio piger 9}
\SP{spR}{1088}{1015}{Megasphaera elsdenii 4}
\SP{spG}{1088}{1027}{Desulfovibrio desulfuricans 3}
\BK{1085}{984}{1072}{1003}\BK{1072}{1014}{1085}{1032}
\SP{spG}{1088}{1203}{Desulfovibrio piger 13}
\SP{spG}{1088}{1216}{Desulfovibrio desulfuricans 11}
\SP{spG}{1088}{1228}{Desulfovibrio 4}
\SP{spG}{1088}{1240}{Desulfovibrio vulgaris 1}
\BK{1085}{1198}{1072}{1218}\BK{1072}{1227}{1085}{1247}
\SP{spG}{1088}{1417}{Desulfovibrio 34}
\SP{spG}{1088}{1429}{Desulfovibrio piger 13}
\SP{spG}{1088}{1442}{Desulfovibrio desulfuricans 11}
\SP{spG}{1088}{1454}{Desulfovibrio sp. 6\_1\_46AFAA 2}
\BK{1085}{1411}{1072}{1429}\BK{1072}{1441}{1085}{1459}
% caption
\node[anchor=west,inner sep=0pt,font=\capf\fontsize{19}{20}\selectfont,text=black!75] (cap) at (20,1607.5) {{\bfseries\color{teal!60!black}Figure 6} (See legend on next page.)};
\end{tikzpicture}
\end{document}
